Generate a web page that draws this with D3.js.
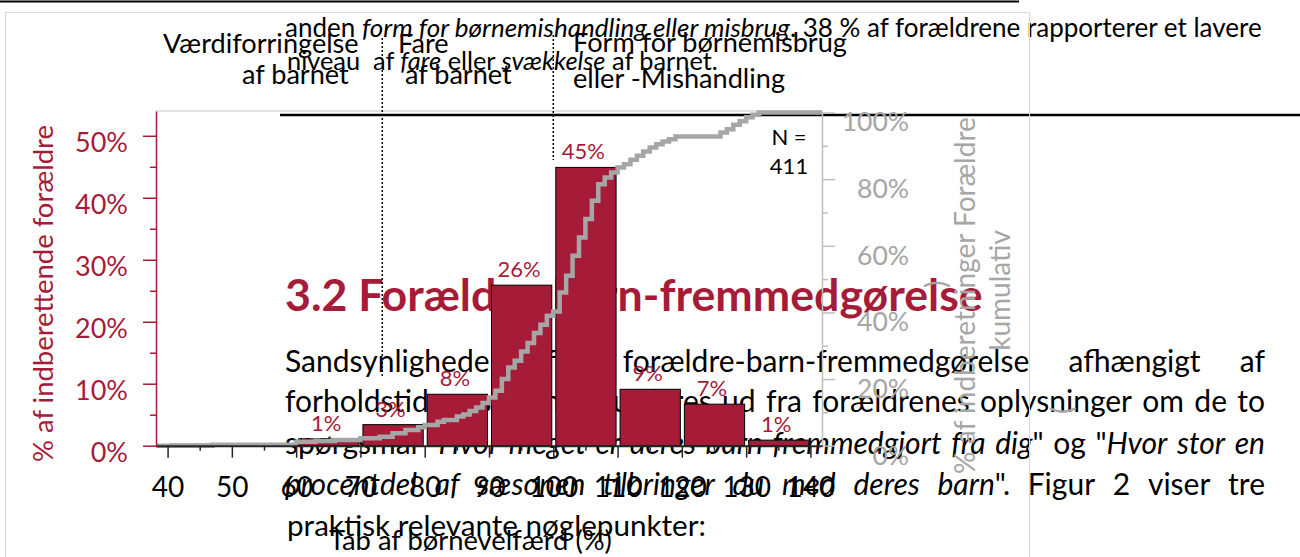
<!DOCTYPE html>
<html>
<head>
<meta charset="utf-8">
<script src="https://cdn.jsdelivr.net/npm/d3@7"></script>
<style>
  body { margin: 0; background: #fff; }
  svg { display: block; font-family: Lato, "Open Sans", sans-serif; }
</style>
</head>
<body>
<svg id="canvas" width="1300" height="557"></svg>
<script>
// histogram: lower bin edges and share of reporting parents (%)
let binStarts = [40, 50, 60, 70, 80, 90, 100, 110, 120, 130]
let binShares = [0.24, 0, 1.1, 3.4, 8.3, 25.9, 44.9, 9.1, 6.7, 0.9]
let binLabels = ["", "", "1%", "3%", "8%", "26%", "45%", "9%", "7%", "1%"]
let binWidth = 10

// cumulative share of reports (%)
let cumX = [38.2, 47, 60, 63, 66, 70, 73, 75, 77, 79, 80, 82, 83, 85, 86, 87, 88, 89, 90, 91, 92, 93, 94, 95, 96, 97, 98, 99,
            100, 101, 102, 103, 104, 105, 106, 107, 108, 109, 110, 111, 112, 113, 114, 115, 116, 117, 118, 119,
            126, 127, 128, 129, 130, 131, 132, 141.8]
let cumY = [0, 0.3, 1.2, 1.4, 1.7, 2.2, 2.7, 3.7, 4.7, 5.5, 6.2, 7.2, 7.7, 8.8, 9.4, 10.4, 11.5, 12.8, 14.5, 16.5, 20.0, 23.5, 25.5, 28.3, 30.8, 33.8, 36.3, 39.0,
            40.3, 46.0, 51.0, 57.0, 62.5, 68.0, 73.5, 78.5, 80.5, 82.0, 83.5, 84.5, 85.8, 87.0, 88.3, 89.5, 90.5, 91.3, 92.0, 92.8,
            94.0, 95.0, 96.3, 97.4, 98.6, 99.3, 100, 100]

let xTicks = [40, 50, 60, 70, 80, 90, 100, 110, 120, 130, 140]
let xMinorTicks = [45, 55, 65, 75, 85, 95, 105, 115, 125, 135]
let leftTicks = [0, 10, 20, 30, 40, 50]
let leftMinorTicks = [5, 15, 25, 35, 45]
let rightTicks = [0, 20, 40, 60, 80, 100]
let rightMinorTicks = [10, 30, 50, 70, 90]

// category borders (dotted) and their names
let thresholds = [73.4, 100]
let bandNames = [["Værdiforringelse", "af barnet"], ["Fare", "af barnet"], ["Form for børnemisbrug", "eller -Mishandling"]]
let sampleSize = 411

// page text lying around the figure (*...* = italic)
let docTop = [
  "anden *form for børnemishandling eller misbrug*. 38 % af forældrene rapporterer et lavere",
  "niveau  af *fare* eller *svækkelse* af barnet."
]
let docHeading = "3.2 Forældre-barn-fremmedgørelse"
let docBody = [
  "Sandsynligheden for forældre-barn-fremmedgørelse afhængigt af",
  "forholdstiden, som her vurderes ud fra forældrenes oplysninger om de to",
  "spørgsmål \"*Hvor meget er deres barn fremmedgjort fra dig*\" og \"*Hvor stor en*",
  "*procentdel af sæsonen tilbringer du med deres barn*\". Figur 2 viser tre",
  "praktisk relevante nøglepunkter:"
]
let bodyBaselines = [371.7, 412, 454, 495, 536]

const crimson = "#a61b38"
const gray = "#a6a6a6"

let svg = d3.select("#canvas")
let doc = svg.append("g")
let chart = svg.append("g")

// ---------- helpers for text ----------
function parseWords(str) {
  let words = [], cur = [], buf = "", it = false
  let flush = () => { if (buf) { cur.push({ t: buf, it: it }); buf = "" } }
  for (let ch of str) {
    if (ch === "*") { flush(); it = !it }
    else if (ch === " ") { flush(); if (cur.length) words.push(cur); cur = [] }
    else buf += ch
  }
  flush()
  if (cur.length) words.push(cur)
  return words
}

function drawRuns(g, str, x, y, size) {
  let t = g.append("text").attr("x", x).attr("y", y).attr("font-size", size).style("white-space", "pre")
  str.split("*").forEach((s, i) => {
    if (s) t.append("tspan").attr("font-style", i % 2 ? "italic" : "normal").text(s)
  })
  return t
}

function drawJustified(g, str, x0, x1, y, size) {
  let words = parseWords(str)
  let nodes = words.map(w => {
    let t = g.append("text").attr("y", y).attr("font-size", size)
    w.forEach(r => t.append("tspan").attr("font-style", r.it ? "italic" : "normal").text(r.t))
    return t
  })
  let widths = nodes.map(n => n.node().getComputedTextLength())
  let gap = (x1 - x0 - d3.sum(widths)) / (words.length - 1)
  let cx = x0
  nodes.forEach((n, i) => { n.attr("x", cx); cx += widths[i] + gap })
}

function fitWidth(t, w) {
  let len = t.node().getComputedTextLength()
  let fs = parseFloat(t.attr("font-size"))
  t.attr("font-size", fs * w / len)
  return fs * w / len
}

// ---------- page layer ----------
doc.append("line").attr("x1", 0).attr("x2", 1019).attr("y1", 1.5).attr("y2", 1.5)
   .attr("stroke", "#000").attr("stroke-width", 2)
doc.append("line").attr("x1", 280).attr("x2", 1300).attr("y1", 115).attr("y2", 115)
   .attr("stroke", "#000").attr("stroke-width", 2.5)

fitWidth(drawRuns(doc, docTop[0], 285, 37, 24), 977)
fitWidth(drawRuns(doc, docTop[1], 287, 70, 23), 431)

let heading = doc.append("text").attr("x", 285).attr("y", 311).attr("font-size", 42)
   .attr("font-weight", "bold").attr("fill", crimson).text(docHeading)
fitWidth(heading, 698)

docBody.forEach((line, i) => {
  let y = bodyBaselines[i]
  if (i < docBody.length - 1) drawJustified(doc, line, 285, 1265, y, 30)
  else fitWidth(drawRuns(doc, line, 287, y, 30), 419)
})

// ---------- chart ----------
let x = d3.scaleLinear().domain([38.2, 141.8]).range([156, 822])
let yL = d3.scaleLinear().domain([0, 54]).range([445.7, 111])
let yR = d3.scaleLinear().domain([0, 100.45]).range([445.7, 111])

chart.append("rect").attr("x", 5.5).attr("y", 12.5).attr("width", 1024).attr("height", 600)
     .attr("fill", "none").attr("stroke", "#d9d9d9")
chart.append("line").attr("x1", 156).attr("x2", 822).attr("y1", 111).attr("y2", 111)
     .attr("stroke", "#d9d9d9").attr("stroke-width", 1.5)

let bins = binStarts.map((b, i) => ({ start: b, share: binShares[i], label: binLabels[i] }))

chart.append("g").selectAll("rect")
     .data(bins.filter(d => d.share > 0))
     .enter().append("rect")
     .attr("x", d => x(d.start) + 2.5)
     .attr("width", d => x(d.start + binWidth) - x(d.start) - 4)
     .attr("y", d => yL(d.share))
     .attr("height", d => yL(0) - yL(d.share))
     .attr("fill", crimson)
     .attr("stroke", "#000")
     .attr("stroke-width", 1)

chart.append("g").selectAll("text")
     .data(bins.filter(d => d.label))
     .enter().append("text")
     .attr("x", d => x(d.start + binWidth / 2) - 2)
     .attr("y", d => yL(d.share) - 8)
     .attr("text-anchor", "middle")
     .attr("font-size", 22)
     .attr("fill", crimson)
     .text(d => d.label)

// dotted borders between the categories
let dotTops = [38, 35], dotBottoms = [378, 160]
thresholds.forEach((t, i) => {
  chart.append("line").attr("x1", x(t)).attr("x2", x(t)).attr("y1", dotTops[i]).attr("y2", dotBottoms[i])
       .attr("stroke", "#000").attr("stroke-width", 1.5).attr("stroke-dasharray", "2,2")
})

// cumulative step line
let cumData = cumX.map((v, i) => [v, cumY[i]])
chart.append("path")
     .datum(cumData)
     .attr("d", d3.line().x(d => x(d[0])).y(d => yR(d[1])).curve(d3.curveStepAfter))
     .attr("fill", "none")
     .attr("stroke", gray)
     .attr("stroke-width", 4.5)

// left axis
let gL = chart.append("g").attr("transform", "translate(156,0)")
  .call(d3.axisLeft(yL).tickValues(leftTicks).tickSize(13).tickSizeOuter(0).tickFormat(d => d + "%"))
gL.attr("font-family", null).attr("font-size", 27)
gL.select(".domain").attr("stroke", crimson).attr("stroke-width", 1.5)
gL.selectAll(".tick line").attr("stroke", crimson).attr("stroke-width", 1.5)
gL.selectAll(".tick text").attr("fill", crimson).attr("x", -28).attr("dy", 16)
let gLm = chart.append("g").attr("transform", "translate(156,0)")
  .call(d3.axisLeft(yL).tickValues(leftMinorTicks).tickSize(6).tickFormat(""))
gLm.select(".domain").remove()
gLm.selectAll(".tick line").attr("stroke", crimson).attr("stroke-width", 1.5)

// right axis
let gR = chart.append("g").attr("transform", "translate(822,0)")
  .call(d3.axisRight(yR).tickValues(rightTicks).tickSize(13).tickSizeOuter(0).tickFormat(d => d + "%"))
gR.attr("font-family", null).attr("font-size", 26.5)
gR.select(".domain").attr("stroke", "#bfbfbf").attr("stroke-width", 1.5)
gR.selectAll(".tick line").attr("stroke", "#bfbfbf").attr("stroke-width", 1.5)
gR.selectAll(".tick text").attr("fill", gray).attr("x", 87).attr("dy", 18.5).attr("text-anchor", "end")
let gRm = chart.append("g").attr("transform", "translate(822,0)")
  .call(d3.axisRight(yR).tickValues(rightMinorTicks).tickSize(6).tickFormat(""))
gRm.select(".domain").remove()
gRm.selectAll(".tick line").attr("stroke", "#bfbfbf").attr("stroke-width", 1.5)

// bottom axis
let gX = chart.append("g").attr("transform", "translate(0,445.7)")
  .call(d3.axisBottom(x).tickValues(xTicks).tickSize(12).tickSizeOuter(0))
gX.attr("font-family", null).attr("font-size", 28)
gX.select(".domain").attr("stroke", "#262626").attr("stroke-width", 2)
gX.selectAll(".tick line").attr("stroke", "#262626").attr("stroke-width", 1.5)
gX.selectAll(".tick text").attr("fill", "#000").attr("y", 51).attr("dy", 0)
let gXm = chart.append("g").attr("transform", "translate(0,445.7)")
  .call(d3.axisBottom(x).tickValues(xMinorTicks).tickSize(5).tickFormat(""))
gXm.select(".domain").remove()
gXm.selectAll(".tick line").attr("stroke", "#262626").attr("stroke-width", 1.5)

// axis titles
let titleL = chart.append("text").attr("transform", "translate(53,293.5) rotate(-90)")
     .attr("text-anchor", "middle").attr("font-size", 28).attr("fill", crimson)
     .text("% af indberettende forældre")
fitWidth(titleL, 337)

let titleR1 = chart.append("text").attr("transform", "translate(975,295.5) rotate(-90)")
     .attr("text-anchor", "middle").attr("font-size", 28).attr("fill", gray)
     .text("% af indberetninger Forældre")
let rSize = fitWidth(titleR1, 357)
chart.append("text").attr("transform", "translate(1010,290.5) rotate(-90)")
     .attr("text-anchor", "middle").attr("font-size", rSize).attr("fill", gray)
     .text("kumulativ")

// stray bracket glyphs near the right title
chart.append("text").attr("transform", "translate(946,288) rotate(-90)")
     .attr("font-size", 28).attr("fill", gray).text(")")
chart.append("text").attr("transform", "translate(1072,414) rotate(-90)")
     .attr("font-size", 28).attr("fill", gray).text("(")

let titleX = chart.append("text").attr("x", 329).attr("y", 550).attr("font-size", 28)
     .text("Tab af børnevelfærd (%)")
fitWidth(titleX, 283)

// category names above the plot
let bandX = [[163, 242], [398, 405], [573, 573]]
let bandY = [[53, 84], [53, 84], [52, 88]]
let probe = chart.append("text").attr("font-size", 28).text(bandNames[2][0])
let bandSize = fitWidth(probe, 274)
probe.remove()
bandNames.forEach((lines, i) => {
  lines.forEach((s, j) => {
    chart.append("text").attr("x", bandX[i][j]).attr("y", bandY[i][j])
         .attr("font-size", bandSize).attr("fill", "#000").text(s)
  })
})

// sample size
chart.append("text").attr("x", 789).attr("y", 145).attr("text-anchor", "middle")
     .attr("font-size", 22).text("N =")
chart.append("text").attr("x", 789).attr("y", 174).attr("text-anchor", "middle")
     .attr("font-size", 22).text(sampleSize)
</script>
</body>
</html>
